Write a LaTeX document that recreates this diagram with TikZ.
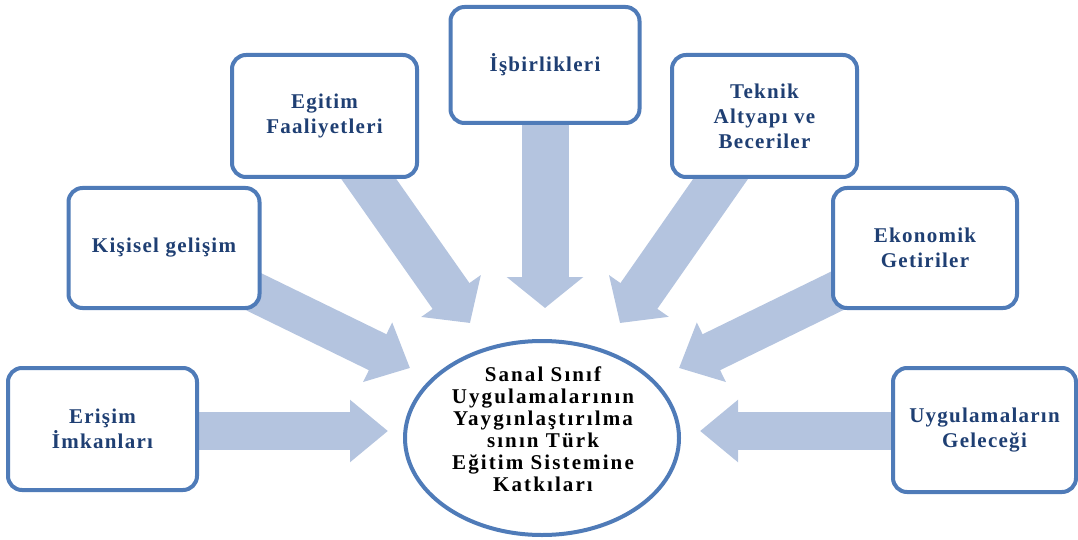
\documentclass[tikz,border=0pt]{standalone}
\usepackage{fontspec}
\setmainfont{Liberation Serif}
\usetikzlibrary{shapes.geometric,arrows.meta,backgrounds}
\definecolor{bordc}{HTML}{4F7BB8}
\definecolor{txtc}{HTML}{1F3F73}
\definecolor{arrc}{HTML}{B4C4DF}
\tikzset{
  box/.style={draw=bordc, line width=4pt, rounded corners=14pt, fill=white,
    inner sep=0pt, align=center, text=txtc,
    font=\fontsize{21}{25}\selectfont\bfseries\addfontfeatures{LetterSpace=6}},
  bigarrow/.style={draw=arrc, line cap=butt},
  centre/.style={draw=bordc, line width=4pt, ellipse, fill=white, inner sep=0pt}
}
\begin{document}
\begin{tikzpicture}[x=1pt,y=-1pt]
\useasboundingbox (0,0) rectangle (1078,540);
% boxes
\node[box, minimum width=189, minimum height=122] (erisim) at (102.5,429) {Erişim\\İmkanları};
\node[box, minimum width=191, minimum height=120] (kisisel) at (164,248) {Kişisel gelişim};
\node[box, minimum width=185, minimum height=122] (egitim) at (324.5,116) {Egitim\\Faaliyetleri};
\node[box, minimum width=189, minimum height=116] (isb) at (545,65) {İşbirlikleri};
\node[box, minimum width=185, minimum height=122] (teknik) at (764.5,116) {Teknik\\Altyapı ve\\Beceriler};
\node[box, minimum width=184, minimum height=120] (ekon) at (925,248) {Ekonomik\\Getiriler};
\node[box, minimum width=183, minimum height=124] (uyg) at (984.5,430) {Uygulamaların\\Geleceği};
% centre
\node[centre, minimum width=274, minimum height=194] (merkez) at (542,438) {};
\node[align=center, font=\fontsize{21}{22}\selectfont\bfseries\addfontfeatures{LetterSpace=10}] (mtext) at (543,429)
  {Sanal Sınıf\\Uygulamalarının\\Yaygınlaştırılma\\sının Türk\\Eğitim Sistemine\\Katkıları};
% tips
\coordinate (tE) at (388,431);
\coordinate (tR) at (700,431);
\coordinate (tK) at (410,368);
\coordinate (tEk) at (679,368);
\coordinate (tEg) at (470,323);
\coordinate (tT) at (620,323);
\coordinate (tI) at (545,308);
\begin{pgfonlayer}{background}
\draw[bigarrow, line width=38pt, -{Triangle[length=38pt,width=60pt]}] (erisim.center |- tE) -- (tE);
\draw[bigarrow, line width=38pt, -{Triangle[length=38pt,width=60pt]}] (uyg.center |- tR) -- (tR);
\draw[bigarrow, line width=40pt, -{Triangle[length=36pt,width=64pt]}] (kisisel.center) -- (tK);
\draw[bigarrow, line width=40pt, -{Triangle[length=36pt,width=64pt]}] (ekon.center) -- (tEk);
\draw[bigarrow, line width=45pt, -{Triangle[length=33pt,width=71pt]}] (egitim.center) -- (tEg);
\draw[bigarrow, line width=45pt, -{Triangle[length=33pt,width=71pt]}] (teknik.center) -- (tT);
\draw[bigarrow, line width=47pt, -{Triangle[length=31pt,width=75pt]}] (isb.center) -- (tI);
\end{pgfonlayer}
\end{tikzpicture}
\end{document}
